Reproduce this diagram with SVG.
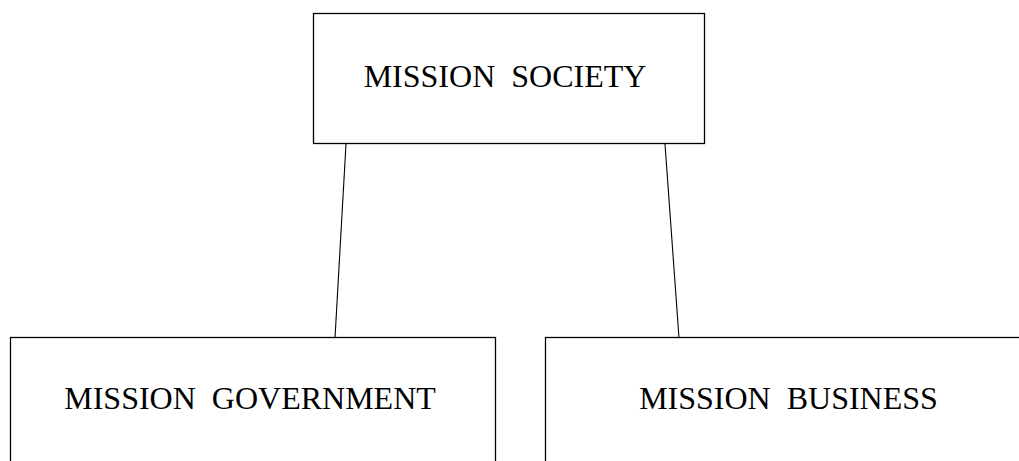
<svg xmlns="http://www.w3.org/2000/svg" width="1019" height="461" viewBox="0 0 1019 461">
<style>
.box{fill:#fff;stroke:#000;stroke-width:1.3}
.lbl{font-family:"Liberation Serif","Times New Roman",serif;font-size:32px;fill:#000;text-anchor:middle;word-spacing:8px}
.con{stroke:#000;stroke-width:1.1;fill:none}
</style>
<rect width="1019" height="461" fill="#fff"/>
<g id="connectors">
<line class="con" x1="346" y1="144" x2="335" y2="338"/>
<line class="con" x1="665" y1="144" x2="679" y2="338"/>
</g>
<g id="society">
<rect class="box" x="313.5" y="13.5" width="391" height="130"/>
<text class="lbl" x="505" y="87">MISSION SOCIETY</text>
</g>
<g id="government">
<rect class="box" x="10.5" y="337.5" width="485" height="130"/>
<text class="lbl" x="250" y="409">MISSION GOVERNMENT</text>
</g>
<g id="business">
<rect class="box" x="545.5" y="337.5" width="485" height="130"/>
<text class="lbl" x="788.5" y="409">MISSION BUSINESS</text>
</g>
</svg>
